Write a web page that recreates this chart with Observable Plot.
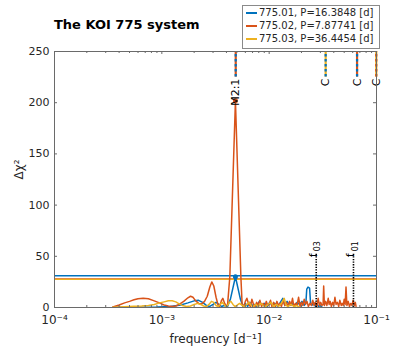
<!DOCTYPE html>
<html>
<head>
<meta charset="utf-8">
<script src="https://cdn.jsdelivr.net/npm/d3@7"></script>
<script src="https://cdn.jsdelivr.net/npm/@observablehq/plot@0.6"></script>
<style>
  html, body { margin: 0; padding: 0; background: white; }
  #wrap { position: relative; width: 416px; height: 353px; font-family: "DejaVu Sans", sans-serif; color: #262626; }
  #title { position: absolute; left: 54px; top: 17px; font: bold 13px "DejaVu Sans", sans-serif; color: #000; white-space: nowrap; }
  #legend { position: absolute; left: 242px; top: 5px; width: 136px; height: 41px; border: 1px solid #8a8a8a; background: white; font: 10px "DejaVu Sans", sans-serif; color: #262626; padding-top: 1px; box-sizing: content-box; }
  .row { height: 12.9px; line-height: 12.9px; white-space: nowrap; }
  .sw { display: inline-block; width: 11px; height: 2px; margin: 0 2px 0 3px; vertical-align: middle; }
</style>
</head>
<body>
<div id="wrap"></div>
<script>
// ---------- data ----------
const seriesNames = ["775.01", "775.02", "775.03"];
const periods = ["16.3848", "7.87741", "36.4454"];
const seriesColors = ["#0072BD", "#D95319", "#EDB120"];
const thresholds = [31, 28, 27.4];

const freq01 = [3.5e-4, 6e-4, 9e-4, 1.2e-3, 1.5e-3, 1.75e-3, 2.0e-3, 2.2e-3, 2.4e-3, 2.6e-3, 2.8e-3, 3.0e-3, 3.2e-3, 3.4e-3, 3.6e-3, 3.8e-3, 4.1e-3, 4.35e-3, 4.85e-3, 5.4e-3, 5.7e-3, 6.0e-3, 6.3e-3, 6.6e-3, 6.9e-3, 7.3e-3, 7.7e-3, 8.1e-3, 8.6e-3, 9.1e-3, 9.6e-3, 1.01e-2, 1.07e-2, 1.13e-2, 1.2e-2, 1.27e-2, 1.34e-2, 1.4e-2, 1.47e-2, 1.55e-2, 1.63e-2, 1.72e-2, 1.82e-2, 1.92e-2, 2.02e-2, 2.12e-2, 2.2e-2, 2.24e-2, 2.3e-2, 2.38e-2, 2.43e-2, 2.5e-2, 2.6e-2, 2.7e-2, 2.8e-2, 2.9e-2, 3.0e-2, 3.1e-2];
const chi01  = [0.2, 0.3, 0.5, 1, 2.5, 4.5, 6.5, 7, 5, 2, 1, 3, 5, 3, 1, 2, 1, 8, 30, 8, 1, 4, 1, 5, 2, 3, 1, 6, 2, 4, 1, 5, 2, 4, 1, 5, 9, 2, 6, 2, 4, 1, 5, 3, 6, 2, 5, 18, 20, 19, 4, 2, 5, 1, 3, 1, 2, 0.5];

const freq02 = [3.5e-4, 4.0e-4, 4.5e-4, 5.0e-4, 5.5e-4, 6.0e-4, 6.7e-4, 7.5e-4, 8.5e-4, 9.5e-4, 1.05e-3, 1.15e-3, 1.25e-3, 1.35e-3, 1.45e-3, 1.6e-3, 1.75e-3, 1.85e-3, 1.95e-3, 2.05e-3, 2.2e-3, 2.35e-3, 2.5e-3, 2.65e-3, 2.8e-3, 2.92e-3, 3.05e-3, 3.2e-3, 3.35e-3, 3.45e-3, 3.6e-3, 3.7e-3, 3.85e-3, 4.0e-3, 4.1e-3, 4.3e-3, 4.85e-3, 5.45e-3, 5.6e-3, 5.8e-3, 6.0e-3, 6.2e-3, 6.45e-3, 6.7e-3, 6.9e-3, 7.15e-3, 7.4e-3, 7.65e-3, 7.9e-3, 8.2e-3, 8.5e-3, 8.8e-3, 9.1e-3, 9.4e-3, 9.7e-3, 1.0e-2, 1.03e-2, 1.06e-2, 1.1e-2, 1.14e-2, 1.18e-2, 1.22e-2, 1.26e-2, 1.3e-2, 1.35e-2, 1.4e-2, 1.45e-2, 1.5e-2, 1.55e-2, 1.6e-2, 1.65e-2, 1.7e-2, 1.76e-2, 1.82e-2, 1.88e-2, 1.94e-2, 2.0e-2, 2.06e-2, 2.12e-2, 2.18e-2, 2.25e-2, 2.32e-2, 2.4e-2, 2.47e-2, 2.55e-2, 2.62e-2, 2.7e-2, 2.78e-2, 2.86e-2, 2.94e-2, 3.02e-2, 3.1e-2, 3.18e-2, 3.22e-2, 3.27e-2, 3.35e-2, 3.45e-2, 3.55e-2, 3.62e-2, 3.7e-2, 3.8e-2, 3.9e-2, 4.0e-2, 4.1e-2, 4.2e-2, 4.32e-2, 4.45e-2, 4.55e-2, 4.7e-2, 4.8e-2, 4.9e-2, 5.0e-2, 5.1e-2, 5.2e-2, 5.3e-2, 5.45e-2, 5.6e-2, 5.75e-2, 5.9e-2, 6.05e-2, 6.2e-2, 6.35e-2, 6.45e-2];
const chi02  = [0.5, 2.5, 4.5, 6, 7.5, 8.5, 9, 8.5, 6.5, 4.5, 2.5, 1.5, 1, 1.5, 3, 6, 9.5, 11, 10, 7, 4, 3.5, 6, 11, 20, 25, 21, 10, 2, 1, 7, 9, 4, 1, 3, 30, 202, 30, 3, 1, 6, 9, 3, 1, 8, 3, 1, 5, 2, 7, 1, 4, 1, 6, 2, 3, 7, 1, 5, 1, 6, 2, 4, 1, 7, 2, 5, 1, 6, 2, 9, 1, 4, 2, 10, 1, 5, 2, 8, 3, 6, 1, 4, 2, 7, 2, 5, 1, 9, 2, 5, 2, 3, 21, 2, 6, 2, 9, 3, 6, 1, 5, 2, 10, 3, 5, 1, 7, 2, 4, 2, 8, 3, 20, 2, 6, 1, 4, 2, 7, 2, 5, 1];

const freq03 = [3.5e-4, 4.5e-4, 5.5e-4, 6.5e-4, 7.5e-4, 8.5e-4, 9.5e-4, 1.05e-3, 1.15e-3, 1.25e-3, 1.35e-3, 1.45e-3, 1.55e-3, 1.7e-3, 1.85e-3, 2.0e-3, 2.15e-3, 2.3e-3, 2.45e-3, 2.6e-3, 2.75e-3, 2.9e-3, 3.05e-3, 3.2e-3, 3.35e-3, 3.5e-3, 3.65e-3, 3.8e-3, 3.95e-3, 4.1e-3, 4.25e-3, 4.4e-3, 4.6e-3, 4.8e-3, 5.0e-3, 5.3e-3, 5.6e-3, 5.9e-3, 6.2e-3, 6.5e-3, 6.8e-3, 7.1e-3, 7.5e-3, 7.9e-3, 8.3e-3, 8.8e-3, 9.3e-3, 9.8e-3, 1.04e-2, 1.1e-2, 1.16e-2, 1.22e-2, 1.3e-2, 1.38e-2, 1.44e-2, 1.5e-2, 1.6e-2, 1.7e-2, 1.8e-2, 1.9e-2];
const chi03  = [0.3, 0.8, 1.2, 1.5, 2, 3, 4.5, 5.5, 6.5, 6.5, 5.5, 3.5, 2, 1, 1.5, 3, 4, 3, 1.5, 1, 3, 6, 5, 2, 1, 3, 5, 3, 1, 2, 5, 6, 3, 1, 2, 4, 2, 1, 3, 5, 2, 1, 3, 1, 4, 2, 1, 3, 5, 1, 3, 1, 4, 9, 2, 1, 3, 1, 2, 0.5];

// combination / resonance markers along the top
const markerFreq = [0.00488, 0.0336, 0.0659, 0.0995];
const markerLabel = ["M2:1", "C", "C", "C"];
const markerSeriesA = [1, 2, 1, 2];
const markerSeriesB = [0, 0, 0, 1];

// planet frequency markers
const fLineFreq = [0.02744, 0.06103];
const fLineSub = ["03", "01"];

const yTicks = [0, 50, 100, 150, 200, 250];
const xTicks = [1e-4, 1e-3, 1e-2, 1e-1];

// ---------- build ----------
const freqs = [freq01, freq02, freq03];
const chis = [chi01, chi02, chi03];
const rows = [];
freqs.forEach((fa, s) => fa.forEach((f, i) => rows.push({s, f, v: chis[s][i]})));
const peaks = [0, 1].map(s => d3.greatest(rows.filter(r => r.s === s), r => r.v));
const thr = thresholds.map((v, s) => ({s, v}));
const markers = markerFreq.map((f, i) => ({f, label: markerLabel[i], a: markerSeriesA[i], b: markerSeriesB[i]}));
const fLines = fLineFreq.map((f, i) => ({f, sub: fLineSub[i]}));
const minorTicks = [];
[1e-4, 1e-3, 1e-2].forEach(d => { for (let k = 2; k <= 9; k++) minorTicks.push(k * d); });

const sup = {"-": "\u207B", "0": "\u2070", "1": "\u00B9", "2": "\u00B2", "3": "\u00B3", "4": "\u2074"};
const fmtPow = d => "10" + String(Math.round(Math.log10(d))).split("").map(c => sup[c]).join("");

const plotW = 416 - 54 - 40, plotH = 353 - 51 - 46;
const axisCol = "#6a6a6a";

const markerMarks = [];
markers.forEach(m => {
  markerMarks.push(Plot.ruleX([m], {x: "f", y1: 225, y2: 250, stroke: seriesColors[m.a], strokeWidth: 2.2}));
  markerMarks.push(Plot.ruleX([m], {x: "f", y1: 225, y2: 250, stroke: seriesColors[m.b], strokeWidth: 2.2, strokeDasharray: "2.5,2.5"}));
});

const chart = Plot.plot({
  width: 416, height: 353,
  marginLeft: 54, marginRight: 40, marginTop: 51, marginBottom: 46,
  style: {fontFamily: "DejaVu Sans, sans-serif", fontSize: "11px", color: "#262626", background: "white", overflow: "visible"},
  x: {type: "log", domain: [1e-4, 1e-1]},
  y: {domain: [0, 250]},
  marks: [
    // threshold lines
    ...thr.map(t => Plot.ruleY([t], {y: "v", stroke: seriesColors[t.s], strokeWidth: 1.3})),
    // periodograms
    Plot.line(rows.filter(r => r.s === 0), {x: "f", y: "v", stroke: seriesColors[0], strokeWidth: 1.5}),
    Plot.line(rows.filter(r => r.s === 1), {x: "f", y: "v", stroke: seriesColors[1], strokeWidth: 1.5}),
    Plot.line(rows.filter(r => r.s === 2), {x: "f", y: "v", stroke: seriesColors[2], strokeWidth: 1.5}),
    ...peaks.map(p => Plot.dot([p], {x: "f", y: "v", r: 2.5, fill: seriesColors[p.s], stroke: "none"})),
    // dotted planet frequency lines
    Plot.ruleX(fLines, {x: "f", y1: 0, y2: 53, stroke: "black", strokeWidth: 1.6, strokeDasharray: "1.3,1.3"}),
    Plot.text(fLines, {x: "f", y: 49, text: () => "f", rotate: -90, textAnchor: "start", lineAnchor: "middle", dx: -3, fill: "black", fontSize: 11}),
    Plot.text(fLines, {x: "f", y: 49, text: "sub", rotate: -90, textAnchor: "start", lineAnchor: "middle", dx: 1.5, dy: -6, fill: "black", fontSize: 8}),
    // top markers
    ...markerMarks,
    Plot.text(markers, {x: "f", y: 223.5, text: "label", rotate: -90, textAnchor: "end", lineAnchor: "middle", fill: "black", fontSize: 11}),
    // frame and inward ticks
    Plot.frame({stroke: axisCol, strokeWidth: 1}),
    Plot.tickY(yTicks, {y: d => d, insetRight: plotW - 3, stroke: axisCol}),
    Plot.tickY(yTicks, {y: d => d, insetLeft: plotW - 3, stroke: axisCol}),
    Plot.tickX(xTicks, {x: d => d, insetTop: plotH - 3, stroke: axisCol}),
    Plot.tickX(xTicks, {x: d => d, insetBottom: plotH - 3, stroke: axisCol}),
    Plot.tickX(minorTicks, {x: d => d, insetTop: plotH - 2, stroke: axisCol}),
    Plot.tickX(minorTicks, {x: d => d, insetBottom: plotH - 2, stroke: axisCol}),
    Plot.axisY(yTicks, {tickSize: 0, tickPadding: 5, label: null, fill: "#262626"}),
    Plot.axisX(xTicks, {tickSize: 0, tickPadding: 8, tickFormat: fmtPow, label: null, fill: "#262626", fontSize: 12}),
    Plot.text(["frequency [d\u207B\u00B9]"], {frameAnchor: "bottom", dy: 35, fill: "#262626", fontSize: 12}),
    Plot.text(["\u0394\u03C7\u00B2"], {frameAnchor: "left", dx: -35, rotate: -90, fill: "#262626", fontSize: 12})
  ]
});

const wrap = document.getElementById("wrap");
wrap.appendChild(chart);

const title = document.createElement("div");
title.id = "title";
title.textContent = "The KOI 775 system";
wrap.appendChild(title);

const legend = document.createElement("div");
legend.id = "legend";
seriesNames.forEach((n, i) => {
  const row = document.createElement("div");
  row.className = "row";
  const sw = document.createElement("span");
  sw.className = "sw";
  sw.style.background = seriesColors[i];
  row.appendChild(sw);
  row.appendChild(document.createTextNode(`${n}, P=${periods[i]} [d]`));
  legend.appendChild(row);
});
wrap.appendChild(legend);
</script>
</body>
</html>
